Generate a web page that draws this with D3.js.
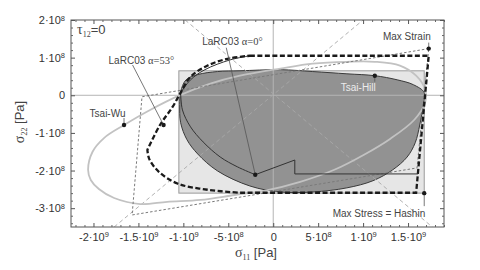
<!DOCTYPE html>
<html>
<head>
<meta charset="utf-8">
<script src="https://cdn.jsdelivr.net/npm/d3@7"></script>
<style>
body{margin:0;background:#fff}
svg{display:block}
text{font-family:"Liberation Sans",Arial,sans-serif;fill:#444}
.serif{font-family:"Liberation Serif","DejaVu Serif",serif}
</style>
</head>
<body>
<svg id="chart" width="480" height="270"></svg>
<script>
// tick values and labels
var xTicks=[-2e9,-1.5e9,-1e9,-5e8,0,5e8,1e9,1.5e9];
var xTickMant=["-2","-1.5","-1","-5","0","5","1","1.5"];
var xTickExp=["9","9","9","8","","8","9","9"];
var yTicks=[-3e8,-2e8,-1e8,0,1e8,2e8];
var yTickMant=["-3","-2","-1","0","1","2"];
var yTickExp=["8","8","8","","8","8"];

// Max Stress = Hashin limits [sigma11], [sigma22]
var maxStressX=[-1.05e9,1.68e9];
var maxStressY=[-2.6e8,6.5e7];

// Max Strain envelope (parallelogram)
var maxStrain=[[1.73e9,1.24e8],[-1.46e9,-0.04e8],[-1.57e9,-3.18e8],[1.6e9,-1.93e8]];

// load path lines
var loadLines=[[[-0.98e9,2e8],[1.77e9,-3.5e8]],[[-1.77e9,-3.5e8],[1.0e9,2e8]]];

// Tsai-Wu envelope
var tsaiWu=[[-2.06e9,-1.98e8],[-2.01e9,-1.50e8],[-1.88e9,-1.13e8],[-1.66e9,-0.79e8],[-1.37e9,-0.39e8],
  [-1.03e9,0.01e8],[-0.70e9,0.31e8],[-0.37e9,0.52e8],[0.08e9,0.71e8],[0.44e9,0.84e8],[0.82e9,0.89e8],
  [1.13e9,0.89e8],[1.41e9,0.79e8],[1.59e9,0.52e8],[1.69e9,0.15e8],[1.69e9,-0.20e8],[1.57e9,-0.65e8],
  [1.30e9,-1.16e8],[1.01e9,-1.58e8],[0.68e9,-1.98e8],[0.30e9,-2.30e8],[-0.10e9,-2.54e8],[-0.43e9,-2.65e8],
  [-0.81e9,-2.78e8],[-1.18e9,-2.83e8],[-1.48e9,-2.89e8],[-1.77e9,-2.73e8],[-1.94e9,-2.49e8],[-2.03e9,-2.25e8]];

// Tsai-Hill envelope
var tsaiHill=[[-1.03e9,0.09e8],[-0.97e9,0.41e8],[-0.84e9,0.55e8],[-0.62e9,0.63e8],[-0.37e9,0.65e8],
  [0.08e9,0.68e8],[0.44e9,0.63e8],[0.82e9,0.57e8],[1.13e9,0.52e8],[1.38e9,0.41e8],[1.56e9,0.28e8],
  [1.68e9,0.07e8],[1.67e9,-0.25e8],[1.63e9,-0.79e8],[1.58e9,-1.26e8],[1.49e9,-1.64e8],[1.33e9,-1.98e8],
  [1.11e9,-2.27e8],[0.82e9,-2.46e8],[0.44e9,-2.57e8],[0.08e9,-2.57e8],[-0.26e9,-2.41e8],[-0.62e9,-2.01e8],
  [-0.84e9,-1.56e8],[-0.96e9,-1.18e8],[-1.03e9,-0.73e8],[-1.04e9,-0.25e8]];

// LaRC03 alpha=53
var larc53Edge=[[-0.26e9,1.05e8],[1.73e9,1.05e8],[1.59e9,-2.59e8],[-0.37e9,-2.59e8]];
var larc53Low=[[-0.37e9,-2.59e8],[-0.73e9,-2.51e8],[-1.06e9,-2.35e8],[-1.27e9,-2.04e8],[-1.38e9,-1.69e8],[-1.40e9,-1.45e8]];
var larc53Up=[[-1.40e9,-1.45e8],[-1.26e9,-0.79e8],[-1.12e9,-0.31e8],[-1.03e9,0.07e8],[-0.92e9,0.49e8],
  [-0.73e9,0.79e8],[-0.51e9,0.97e8],[-0.26e9,1.05e8]];

// LaRC03 alpha=0
var larc0Up=[[-0.26e9,1.05e8],[-0.48e9,0.94e8],[-0.76e9,0.68e8],[-0.92e9,0.41e8],[-1.03e9,0.07e8]];
var larc0Low=[[-1.03e9,0.07e8],[-1.01e9,-0.39e8],[-0.92e9,-0.84e8],[-0.78e9,-1.24e8],[-0.59e9,-1.64e8],
  [-0.40e9,-1.90e8],[-0.20e9,-2.11e8]];
var larc0Edge=[[-0.20e9,-2.11e8],[0.24e9,-1.72e8],[0.24e9,-2.09e8],[1.61e9,-2.09e8]];

// labelled points
var ptMaxStrain=[1.73e9,1.24e8];
var ptMaxStress=[1.68e9,-2.6e8];
var ptTsaiHill=[1.13e9,0.52e8];
var ptTsaiWu=[-1.66e9,-0.79e8];
var ptLarc0=[-0.20e9,-2.11e8];
var ptLarc53=[-1.22e9,-0.79e8];

var svg=d3.select("#chart");
var L=71,R=444,T=20,B=227;
var x=d3.scaleLinear().domain([-2.25e9,1.9e9]).range([L,R]);
var y=d3.scaleLinear().domain([-3.5e8,2.0e8]).range([B,T]);

svg.append("defs").append("clipPath").attr("id","clip")
  .append("rect").attr("x",L).attr("y",T).attr("width",R-L).attr("height",B-T);
var g=svg.append("g").attr("clip-path","url(#clip)");

var lineStraight=d3.line().x(function(d){return x(d[0]);}).y(function(d){return y(d[1]);});
var lineCurved=d3.line().x(function(d){return x(d[0]);}).y(function(d){return y(d[1]);}).curve(d3.curveCatmullRom.alpha(0.5));
var lineClosed=d3.line().x(function(d){return x(d[0]);}).y(function(d){return y(d[1]);}).curve(d3.curveCatmullRomClosed.alpha(0.5));

//把几段拼成一条路径
function buildPath(segs,close){
  var d="";
  segs.forEach(function(s,i){
    var p=(s[1]?lineCurved:lineStraight)(s[0]);
    if(i>0) p="L"+p.slice(1);
    d+=p;
  });
  return close?d+"Z":d;
}

// Max Stress rectangle
g.append("rect")
  .attr("x",x(maxStressX[0])).attr("y",y(maxStressY[1]))
  .attr("width",x(maxStressX[1])-x(maxStressX[0]))
  .attr("height",y(maxStressY[0])-y(maxStressY[1]))
  .style("fill","#e6e6e6").style("stroke","#9a9a9a").style("stroke-width",1);

// Tsai-Hill filled
g.append("path").attr("d",lineClosed(tsaiHill))
  .style("fill","#929292").style("stroke","#3a3a3a").style("stroke-width",1);

// zero lines
g.append("line").attr("x1",L).attr("x2",R).attr("y1",y(0)).attr("y2",y(0))
  .style("stroke","#b4b4b4").style("stroke-width",1);
g.append("line").attr("x1",x(0)).attr("x2",x(0)).attr("y1",T).attr("y2",B)
  .style("stroke","#b4b4b4").style("stroke-width",1);

// load paths
loadLines.forEach(function(l){
  g.append("path").attr("d",lineStraight(l))
    .style("fill","none").style("stroke","#a8a8a8").style("stroke-width",0.9).style("stroke-dasharray","4,3");
});

// Tsai-Wu
g.append("path").attr("d",lineClosed(tsaiWu))
  .style("fill","none").style("stroke","#c2c2c2").style("stroke-width",1.8);

// Max Strain
g.append("path").attr("d",lineStraight(maxStrain)+"Z")
  .style("fill","none").style("stroke","#7a7a7a").style("stroke-width",1).style("stroke-dasharray","2.5,2");

// LaRC03 alpha=0
g.append("path").attr("d",buildPath([[larc0Up,true],[larc0Low,true],[larc0Edge,false]],false))
  .style("fill","none").style("stroke","#333").style("stroke-width",1);

// LaRC03 alpha=53
g.append("path").attr("d",buildPath([[larc53Edge,false],[larc53Low,true],[larc53Up,true]],true))
  .style("fill","none").style("stroke","#1a1a1a").style("stroke-width",2.3).style("stroke-dasharray","5,2.5");

// labels with leaders
function annotate(pt,lx1,ly1,lx2,ly2,tx,ty,anchor,build,color){
  var px=x(pt[0]),py=y(pt[1]);
  svg.append("line").attr("x1",px+lx1).attr("y1",py+ly1).attr("x2",px+lx2).attr("y2",py+ly2)
    .style("stroke","#555").style("stroke-width",0.8);
  svg.append("circle").attr("cx",px).attr("cy",py).attr("r",2.2).style("fill","#1a1a1a");
  var t=svg.append("text").attr("x",px+tx).attr("y",py+ty).attr("text-anchor",anchor)
    .style("font-size","10px");
  if(color) t.style("fill",color);
  build(t);
}
function plain(s){return function(t){t.text(s);};}
function larc(a){return function(t){
  t.append("tspan").text("LaRC03 ");
  t.append("tspan").attr("class","serif").style("font-size","10.5px").text("\u03b1="+a+"\u00b0");
};}

annotate(ptMaxStrain,0,0,0,-6,2,-8.5,"end",plain("Max Strain"));
annotate(ptMaxStress,0,0,0,13,1,23.5,"end",plain("Max Stress = Hashin"));
annotate(ptTsaiHill,0,0,0,6,1,15.5,"end",plain("Tsai-Hill"),"#ececec");
annotate(ptTsaiWu,0,0,0,-7,1.5,-8.5,"end",plain("Tsai-Wu"));
annotate(ptLarc0,0,0,-29,-127,-53,-129.5,"start",larc("0"));
annotate(ptLarc53,0,0,-31,-60,-55,-61.5,"start",larc("53"));

// frame
svg.append("rect").attr("x",L).attr("y",T).attr("width",R-L).attr("height",B-T)
  .style("fill","none").style("stroke","#555").style("stroke-width",1);

// axes
function tickText(mant,exp){
  return function(d,i){
    var t=d3.select(this).text("");
    t.append("tspan").text(mant[i]+(exp[i]?"\u00b710":""));
    if(exp[i]) t.append("tspan").attr("dy","-0.45em").style("font-size","7.5px").text(exp[i]);
  };
}
var minorX=x.ticks(40).filter(function(v){return xTicks.indexOf(v)<0;});
var minorY=y.ticks(30).filter(function(v){return yTicks.indexOf(v)<0;});

function majorAxis(axisFn,tr,major,labels){
  var a=svg.append("g").attr("transform",tr).attr("color","#555")
    .call(axisFn.tickValues(major).tickSize(-4).tickPadding(6).tickFormat(""));
  a.select(".domain").remove();
  if(labels){
    a.attr("font-size",11).attr("font-family",null);
    a.selectAll(".tick text").style("fill","#333").each(labels);
  }
}
majorAxis(d3.axisBottom(x),"translate(0,"+B+")",xTicks,tickText(xTickMant,xTickExp));
majorAxis(d3.axisTop(x),"translate(0,"+T+")",xTicks,null);
majorAxis(d3.axisLeft(y),"translate("+L+",0)",yTicks,tickText(yTickMant,yTickExp));
majorAxis(d3.axisRight(y),"translate("+R+",0)",yTicks,null);

// minor ticks
[[d3.axisBottom(x),"translate(0,"+B+")",minorX],[d3.axisTop(x),"translate(0,"+T+")",minorX],
 [d3.axisLeft(y),"translate("+L+",0)",minorY],[d3.axisRight(y),"translate("+R+",0)",minorY]].forEach(function(a){
  var m=svg.append("g").attr("transform",a[1]).attr("color","#666")
    .call(a[0].tickValues(a[2]).tickSize(-2).tickFormat(""));
  m.select(".domain").remove();
});

// axis titles
var xt=svg.append("text").attr("x",256).attr("y",257).attr("text-anchor","middle").style("font-size","13px");
xt.append("tspan").attr("class","serif").style("font-size","14px").text("\u03c3");
xt.append("tspan").attr("class","serif").attr("dy","3").style("font-size","8px").text("11");
xt.append("tspan").attr("dy","-3").text(" [Pa]");

var yt=svg.append("text").attr("transform","translate(24,122) rotate(-90)").attr("text-anchor","middle").style("font-size","13px");
yt.append("tspan").attr("class","serif").style("font-size","14px").text("\u03c3");
yt.append("tspan").attr("class","serif").attr("dy","3").style("font-size","8px").text("22");
yt.append("tspan").attr("dy","-3").text(" [Pa]");

var tau=svg.append("text").attr("x",77).attr("y",34).style("font-size","13px");
tau.append("tspan").attr("class","serif").style("font-size","14px").text("\u03c4");
tau.append("tspan").attr("class","serif").attr("dy","3").style("font-size","8px").text("12");
tau.append("tspan").attr("dy","-3").text("=0");
</script>
</body>
</html>
